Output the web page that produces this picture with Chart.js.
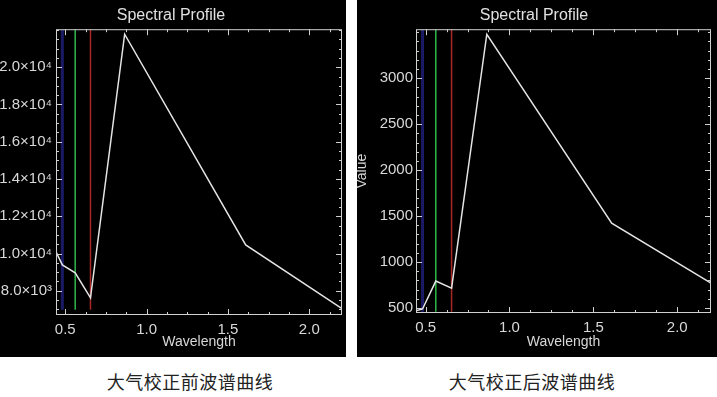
<!DOCTYPE html>
<html>
<head>
<meta charset="utf-8">
<script src="https://cdn.jsdelivr.net/npm/chart.js@4.4.1/dist/chart.umd.min.js"></script>
<style>
  body { margin: 0; background: #fff; width: 717px; height: 397px; overflow: hidden; position: relative; }
  canvas { position: absolute; top: 0; background: #000; }
  #before { left: 0; }
  #after { left: 357px; }
  .cap { position: absolute; top: 368px; width: 300px; text-align: center; font-family: "Noto Sans CJK SC", sans-serif; font-size: 18px; color: #222; letter-spacing: 0.5px; }
</style>
</head>
<body>
<canvas id="before" width="346" height="357"></canvas>
<canvas id="after" width="360" height="357"></canvas>
<div class="cap" style="left:40px">大气校正前波谱曲线</div>
<div class="cap" style="left:382px">大气校正后波谱曲线</div>
<script>
// 波长 (µm) 和两条波谱曲线
const wavelength = [0.443, 0.482, 0.561, 0.655, 0.865, 1.609, 2.201];
const beforeValues = [10090, 9390, 8960, 7620, 21770, 10460, 7040];
const afterValues = [470, 490, 793, 717, 3478, 1424, 772];

// 显示用的 RGB 波段位置
const bandBlue = 0.482, bandGreen = 0.561, bandRed = 0.655;

const xTicks = [0.5, 1.0, 1.5, 2.0];
const beforeTicks = [8000, 10000, 12000, 14000, 16000, 18000, 20000];
const afterTicks = [500, 1000, 1500, 2000, 2500, 3000];

Chart.defaults.font.family = 'Liberation Sans';
Chart.defaults.font.size = 15;
Chart.defaults.color = '#d8d8d8';

// IDL style box with inward major/minor ticks
const idlBox = {
  id: 'idlBox',
  afterDatasetsDraw(chart, args, opts) {
    const { ctx, chartArea: a, scales: { x, y } } = chart;
    ctx.save();
    ctx.strokeStyle = '#d0d0d0';
    ctx.lineWidth = 1;
    ctx.strokeRect(a.left + 0.5, a.top + 0.5, a.right - a.left - 1, a.bottom - a.top - 1);
    ctx.beginPath();
    const xs = (v, len) => {
      const px = Math.round(x.getPixelForValue(v)) + 0.5;
      ctx.moveTo(px, a.bottom); ctx.lineTo(px, a.bottom - len);
      ctx.moveTo(px, a.top); ctx.lineTo(px, a.top + len);
    };
    const ys = (v, len) => {
      const py = Math.round(y.getPixelForValue(v)) + 0.5;
      ctx.moveTo(a.left, py); ctx.lineTo(a.left + len, py);
      ctx.moveTo(a.right, py); ctx.lineTo(a.right - len, py);
    };
    for (let k = Math.ceil(x.min / opts.xMinor); k * opts.xMinor <= x.max; k++) xs(k * opts.xMinor, 3);
    for (let k = Math.ceil(y.min / opts.yMinor); k * opts.yMinor <= y.max; k++) ys(k * opts.yMinor, 3);
    x.ticks.forEach(t => xs(t.value, 6));
    y.ticks.forEach(t => ys(t.value, 6));
    ctx.stroke();
    ctx.restore();
  }
};

function bandLine(w, color, width, lo, hi) {
  return {
    data: [{ x: w, y: lo }, { x: w, y: hi }],
    borderColor: color,
    borderWidth: width,
    pointRadius: 0,
    order: 1
  };
}

function spectrum(id, values, yTicks, yMin, yMax, yMinor, fmt, o) {
  new Chart(document.getElementById(id), {
    type: 'line',
    data: {
      datasets: [
        {
          data: wavelength.map((w, i) => ({ x: w, y: values[i] })),
          borderColor: '#e4e4e4',
          borderWidth: 1.5,
          pointRadius: 0,
          tension: 0,
          order: 0
        },
        bandLine(bandBlue, '#1a1a66', 3, o.lineLo, yMax),
        bandLine(bandGreen, '#2fb84a', 1.5, o.lineLo, yMax),
        bandLine(bandRed, '#a82828', 1.5, o.lineLo, yMax)
      ]
    },
    options: {
      responsive: false,
      animation: false,
      layout: { padding: { left: 0, right: o.rightPad, bottom: 0 } },
      plugins: {
        legend: { display: false },
        tooltip: { enabled: false },
        title: {
          display: true,
          text: 'Spectral Profile',
          color: '#e0e0e0',
          font: { size: 16, weight: 'normal' },
          padding: { top: 6, bottom: 4 }
        },
        idlBox: { xMinor: 0.125, yMinor: yMinor }
      },
      scales: {
        x: {
          type: 'linear',
          min: 0.443,
          max: 2.201,
          grid: { display: false, drawTicks: false },
          border: { display: false },
          afterBuildTicks: s => { s.ticks = xTicks.map(v => ({ value: v })); },
          afterFit: s => { s.height = o.xHeight; },
          ticks: { padding: 6, callback: v => v.toFixed(1), maxRotation: 0 },
          title: { display: true, text: 'Wavelength', font: { size: 14 }, padding: { top: 0, bottom: 6 } }
        },
        y: {
          type: 'linear',
          min: yMin,
          max: yMax,
          grid: { display: false, drawTicks: false },
          border: { display: false },
          afterBuildTicks: s => { s.ticks = yTicks.map(v => ({ value: v })); },
          afterFit: s => { s.width = o.yWidth; },
          ticks: { padding: o.yPad, callback: fmt },
          title: { display: o.yTitle, text: 'Value', font: { size: 14 }, padding: { top: -3, bottom: 0 } }
        }
      }
    },
    plugins: [idlBox]
  });
}

const sci = v => v >= 10000 ? (v / 10000).toFixed(1) + '×10⁴' : (v / 1000).toFixed(1) + '×10³';

spectrum('before', beforeValues, beforeTicks, 6700, 22040, 500, sci,
  { rightPad: 4, xHeight: 42, yWidth: 56, yPad: 4, yTitle: false, lineLo: 6980 });
spectrum('after', afterValues, afterTicks, 446, 3533, 100, v => String(v),
  { rightPad: 6, xHeight: 44, yWidth: 59, yPad: 3, yTitle: true, lineLo: 460 });
</script>
</body>
</html>
